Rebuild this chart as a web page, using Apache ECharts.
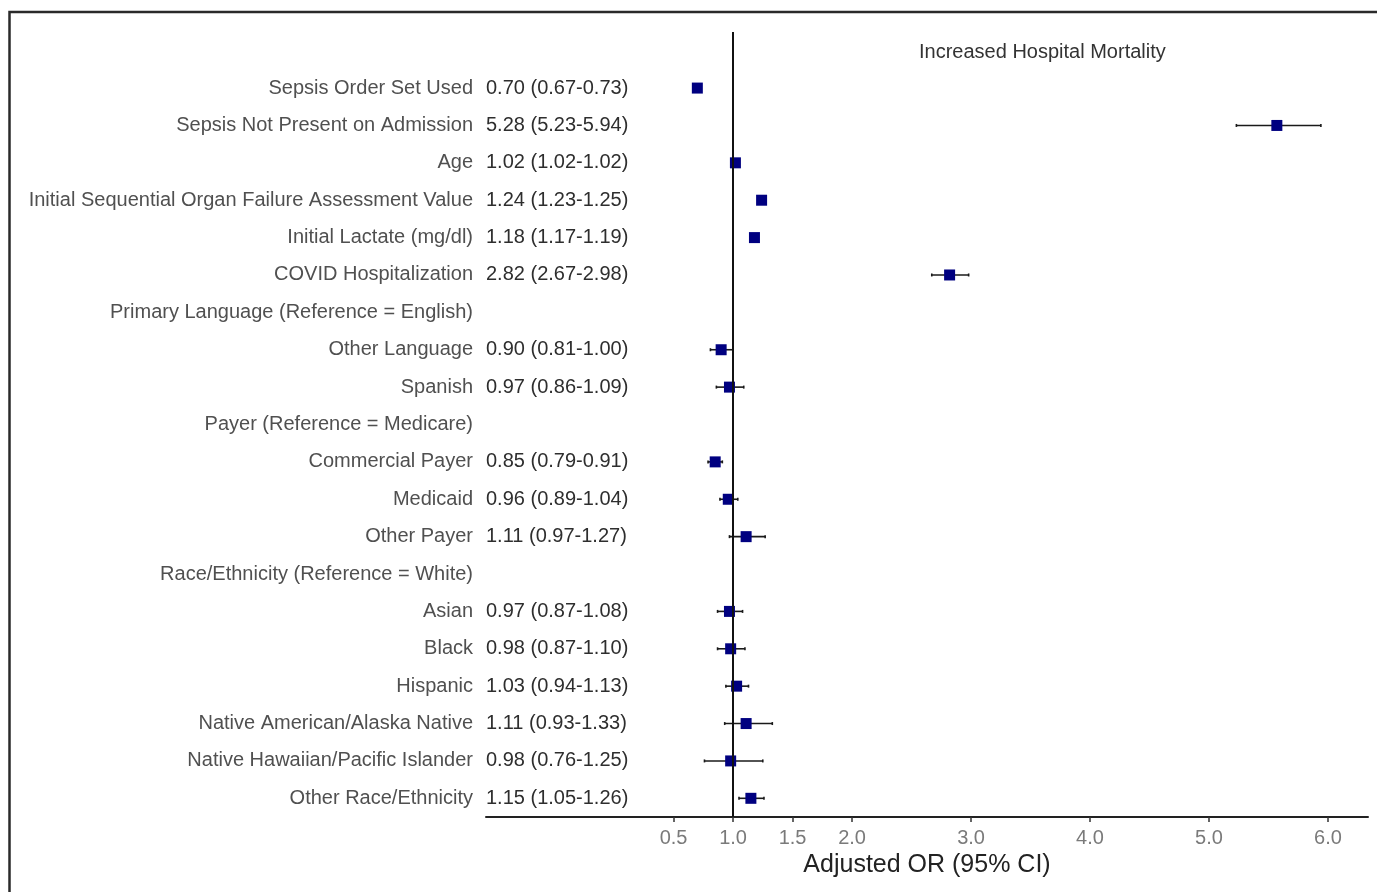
<!DOCTYPE html>
<html>
<head>
<meta charset="utf-8">
<script src="https://cdn.jsdelivr.net/npm/echarts@6/dist/echarts.min.js"></script>
<style>
html,body{margin:0;padding:0;background:#fff;}
#chart{width:1377px;height:892px;}
</style>
</head>
<body>
<div id="chart"></div>
<script>
// Row names (top to bottom)
const names = [
  'Sepsis Order Set Used',
  'Sepsis Not Present on Admission',
  'Age',
  'Initial Sequential Organ Failure Assessment Value',
  'Initial Lactate (mg/dl)',
  'COVID Hospitalization',
  'Primary Language (Reference = English)',
  'Other Language',
  'Spanish',
  'Payer (Reference = Medicare)',
  'Commercial Payer',
  'Medicaid',
  'Other Payer',
  'Race/Ethnicity (Reference = White)',
  'Asian',
  'Black',
  'Hispanic',
  'Native American/Alaska Native',
  'Native Hawaiian/Pacific Islander',
  'Other Race/Ethnicity'
];
// Reported adjusted odds ratios and 95% CI (null = group header)
const orValue = [0.70, 5.28, 1.02, 1.24, 1.18, 2.82, null, 0.90, 0.97, null, 0.85, 0.96, 1.11, null, 0.97, 0.98, 1.03, 1.11, 0.98, 1.15];
const ciLow   = [0.67, 5.23, 1.02, 1.23, 1.17, 2.67, null, 0.81, 0.86, null, 0.79, 0.89, 0.97, null, 0.87, 0.87, 0.94, 0.93, 0.76, 1.05];
const ciHigh  = [0.73, 5.94, 1.02, 1.25, 1.19, 2.98, null, 1.00, 1.09, null, 0.91, 1.04, 1.27, null, 1.08, 1.10, 1.13, 1.33, 1.25, 1.26];
// Plotted marker positions as drawn in the figure
const pointPos = [0.70, 5.57, 1.02, 1.24, 1.18, 2.82, null, 0.90, 0.97, null, 0.85, 0.96, 1.11, null, 0.97, 0.98, 1.03, 1.11, 0.98, 1.15];
// X axis ticks
const xTicks = [0.5, 1.0, 1.5, 2.0, 3.0, 4.0, 5.0, 6.0];
const headerText = 'Increased Hospital Mortality';
const axisTitle = 'Adjusted OR (95% CI)';

const categories = [''].concat(names);
const valueLabels = [''].concat(orValue.map((v, i) =>
  v == null ? '' : v.toFixed(2) + ' (' + ciLow[i].toFixed(2) + '-' + ciHigh[i].toFixed(2) + ')'));

const points = [];
const bars = [];
pointPos.forEach((v, i) => {
  if (v != null) {
    points.push([v, i + 1]);
    bars.push([ciLow[i], ciHigh[i], i + 1]);
  }
});

const FONT = 'Liberation Sans, Arial, sans-serif';
const chart = echarts.init(document.getElementById('chart'));
chart.setOption({
  animation: false,
  backgroundColor: '#ffffff',
  title: {
    text: headerText,
    left: 919, top: 42, padding: 0,
    textStyle: {fontFamily: FONT, fontSize: 20, fontWeight: 'normal', color: '#333333'}
  },
  graphic: [{
    type: 'rect', silent: true,
    shape: {x: 9.5, y: 12, width: 1420, height: 960},
    style: {fill: 'none', stroke: '#2a2a2a', lineWidth: 2.5}
  }],
  grid: {left: 486, right: 9, top: 32, bottom: 75, containLabel: false},
  xAxis: {
    type: 'value', min: -1.076, max: 6.336,
    axisLine: {show: true, onZero: false, lineStyle: {color: '#222222', width: 2}},
    axisTick: {show: true, customValues: xTicks, length: 5, lineStyle: {color: '#333333', width: 1.5}},
    axisLabel: {show: true, customValues: xTicks, margin: 11, fontFamily: FONT, fontSize: 20, color: '#7a7a7a',
      formatter: v => Number(v).toFixed(1)},
    splitLine: {show: false},
    name: axisTitle, nameLocation: 'middle', nameGap: 33,
    nameTextStyle: {fontFamily: FONT, fontSize: 25, color: '#222222'}
  },
  yAxis: [{
    type: 'category', data: categories, inverse: true,
    axisLine: {show: false}, axisTick: {show: false}, splitLine: {show: false},
    axisLabel: {interval: 0, margin: 13, fontFamily: FONT, fontSize: 20, color: '#505050',
      padding: [3, 0, 0, 0]}
  }, {
    type: 'category', data: valueLabels, inverse: true, position: 'left',
    axisLine: {show: false}, axisTick: {show: false}, splitLine: {show: false},
    axisLabel: {interval: 0, margin: 0, align: 'left', fontFamily: FONT, fontSize: 20, color: '#2e2e2e',
      padding: [3, 0, 0, 0]}
  }],
  series: [{
    type: 'custom',
    data: bars,
    encode: {x: [0, 1], y: 2},
    renderItem: function (params, api) {
      const p1 = api.coord([api.value(0), api.value(2)]);
      const p2 = api.coord([api.value(1), api.value(2)]);
      const st = {stroke: '#1a1a1a', lineWidth: 1.6};
      return {type: 'group', children: [
        {type: 'line', shape: {x1: p1[0], y1: p1[1], x2: p2[0], y2: p2[1]}, style: st},
        {type: 'line', shape: {x1: p1[0], y1: p1[1] - 1.5, x2: p1[0], y2: p1[1] + 1.5}, style: st},
        {type: 'line', shape: {x1: p2[0], y1: p2[1] - 1.5, x2: p2[0], y2: p2[1] + 1.5}, style: st}
      ]};
    },
    z: 2
  }, {
    type: 'scatter',
    data: points,
    symbol: 'rect', symbolSize: 11,
    itemStyle: {color: '#000080', opacity: 1},
    z: 3,
    markLine: {
      silent: true, symbol: 'none',
      label: {show: false},
      lineStyle: {color: '#111111', width: 2, type: 'solid'},
      data: [{xAxis: 1}]
    }
  }]
});
</script>
</body>
</html>
